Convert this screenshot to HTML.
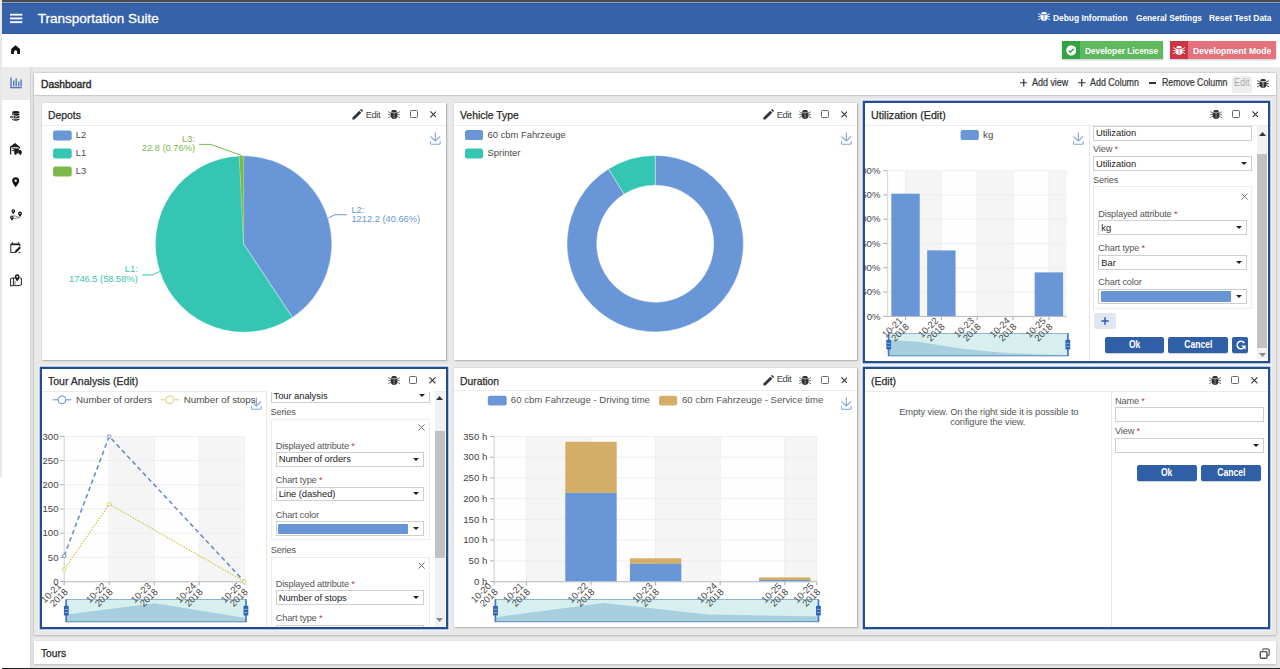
<!DOCTYPE html>
<html><head><meta charset="utf-8">
<style>
*{box-sizing:border-box}
html,body{margin:0;padding:0}
body{width:1280px;height:669px;overflow:hidden;position:relative;background:#e9e9e9;font-family:"Liberation Sans",sans-serif;color:#333}
.a{position:absolute}
.t{position:absolute;white-space:nowrap;line-height:1}
.panel{position:absolute;background:#fff;box-shadow:0 0 1px rgba(0,0,0,.25),1px 1px 1.5px rgba(0,0,0,.22)}
.edit{box-shadow:0 0 0 2.3px #234d90,0 0 0 3.8px #f2f6fb}
.ph{position:absolute;left:0;right:0;top:0;height:23px;border-bottom:1px solid #ececec}
.ptitle{position:absolute;left:6px;top:7px;font-size:11px;font-weight:700;color:#333;letter-spacing:-0.35px;white-space:nowrap;line-height:11px}
.lbl{position:absolute;font-size:9.5px;color:#555;white-space:nowrap;line-height:10px;letter-spacing:-0.1px}
.lbl b{color:#c0303a;font-weight:400}
.inp{position:absolute;border:1px solid #cfcfcf;background:#fff;height:15.5px;font-size:9.5px;color:#222;line-height:13px;padding-left:2px;white-space:nowrap;overflow:hidden}
.sel:after{content:"";position:absolute;right:4px;top:calc(50% - 1.6px);border-left:3.2px solid transparent;border-right:3.2px solid transparent;border-top:3.4px solid #222}
.box{position:absolute;border:1px solid #ececec;background:#fff}
.btn{position:absolute;background:#2f5fa6;color:#fff;font-size:10px;font-weight:700;text-align:center;border-radius:2px;line-height:16px;letter-spacing:0;box-shadow:0 1px 1px rgba(0,0,0,.2)}.btn span{display:inline-block;transform:scaleX(0.86)}
.sb{position:absolute;background:#f1f1f1}
</style></head><body>
<!-- left strip -->
<div class="a" style="left:0;top:0;width:1.6px;height:477px;background:#e8e8e8"></div><div class="a" style="left:0;top:477px;width:1.6px;height:192px;background:#fff"></div>
<!-- top dark -->
<div class="a" style="left:2px;top:0;width:1278px;height:2px;background:#4a4a4a"></div>
<div class="a" style="left:2px;top:2px;width:1278px;height:1px;background:#8aa3cb"></div>
<!-- header -->
<div class="a" style="left:2px;top:3px;width:1278px;height:30.6px;background:#3562a9;border-top:1px solid #2f5799;border-bottom:1px solid #2e5a9f"></div>
<!-- white bar -->
<div class="a" style="left:2px;top:33.6px;width:1278px;height:33.4px;background:#fff"></div>
<!-- sidebar -->
<div class="a" style="left:2px;top:67px;width:28.3px;height:602px;background:#fff"></div>
<div class="a" style="left:2px;top:67px;width:28.3px;height:32.8px;background:#ebebeb"></div>
<div class="a" style="left:30.3px;top:67px;width:3.2px;height:602px;background:#e3e3e3;border-left:1px solid #d5d5d5"></div>
<!-- dashboard card -->
<div class="a" style="left:33.5px;top:72.5px;width:1242px;height:562.5px;background:#e8e8e8;box-shadow:0 0 1.5px rgba(0,0,0,.3),0 1px 2px rgba(0,0,0,.15)"></div>
<div class="a" style="left:33.5px;top:72.5px;width:1242px;height:22.2px;background:#fff;box-shadow:0 1px 1px rgba(0,0,0,.12)"></div>
<!-- tours card -->
<div class="a" style="left:33.5px;top:641px;width:1242px;height:23px;background:#fff;box-shadow:0 1px 2px rgba(0,0,0,.2)"></div>
<!-- bottom dark line -->
<div class="a" style="left:2px;top:667.5px;width:1278px;height:1.5px;background:#1e1e1e"></div>

<svg class="a" style="left:10px;top:13px" width="13" height="11" viewBox="0 0 13 11"><g fill="#fff"><rect x="0" y="0.75" width="12.3" height="1.85"/><rect x="0" y="4.5" width="12.3" height="1.85"/><rect x="0" y="8.25" width="12.3" height="1.85"/></g></svg>
<div class="t" style="left:37.70px;top:11.57px;font-size:13.5px;color:#fff;-webkit-text-stroke:0.3px #fff">Transportation Suite</div>
<svg class="a" style="left:1037.8px;top:12.2px" width="12.2" height="9.5" viewBox="0 0 12.2 9.5"><path d="M3.3 2A2.55 2 0 0 1 8.9 2z" fill="#fff"/><path d="M2.7 2.3H9.5V5.6A3.4 3.4 0 0 1 2.7 5.6z" fill="#fff"/><path d="M3.3 2.7H8.9M6.1 2.7V8.6" stroke="#3562a9" stroke-width="0.7"/><path d="M0.2 1.6L2.8 3.1M0.2 4.6H2.8M0.2 7.8L2.8 6.2M12 1.6L9.4 3.1M12 4.6H9.4M12 7.8L9.4 6.2" stroke="#fff" stroke-width="0.9"/></svg>
<div class="t" style="left:1052.60px;top:13.22px;font-size:9.9px;color:#fff;font-weight:700;transform:scaleX(0.8490);transform-origin:left">Debug Information</div>
<div class="t" style="left:1135.50px;top:13.22px;font-size:9.9px;color:#fff;font-weight:700;transform:scaleX(0.8390);transform-origin:left">General Settings</div>
<div class="t" style="left:1209.30px;top:13.22px;font-size:9.9px;color:#fff;font-weight:700;transform:scaleX(0.8526);transform-origin:left">Reset Test Data</div>
<div class="a" style="left:1062.1px;top:41.4px;width:100.6px;height:17.6px;background:#5fba5f;box-shadow:0 1px 2px rgba(0,0,0,.22)"></div>
<div class="a" style="left:1062.1px;top:41.4px;width:18.1px;height:17.6px;background:#33a244"></div>
<svg class="a" style="left:1065.9px;top:45.2px" width="10.6" height="10.6" viewBox="0 0 12 12"><circle cx="6" cy="6" r="5.8" fill="#fff"/><path d="M3.2 6.1l1.9 1.9 3.7-3.7" stroke="#33a244" stroke-width="1.6" fill="none"/></svg>
<div class="t" style="left:1084.90px;top:45.86px;font-size:9.5px;color:#fff;font-weight:700;transform:scaleX(0.8696);transform-origin:left">Developer License</div>
<div class="a" style="left:1170px;top:41.4px;width:105.5px;height:17.6px;background:#e2737c;box-shadow:0 1px 2px rgba(0,0,0,.22)"></div>
<div class="a" style="left:1170px;top:41.4px;width:18px;height:17.6px;background:#cc3543"></div>
<svg class="a" style="left:1173px;top:45.5px" width="12.2" height="9.5" viewBox="0 0 12.2 9.5"><path d="M3.3 2A2.55 2 0 0 1 8.9 2z" fill="#fff"/><path d="M2.7 2.3H9.5V5.6A3.4 3.4 0 0 1 2.7 5.6z" fill="#fff"/><path d="M3.3 2.7H8.9M6.1 2.7V8.6" stroke="#cc3543" stroke-width="0.7"/><path d="M0.2 1.6L2.8 3.1M0.2 4.6H2.8M0.2 7.8L2.8 6.2M12 1.6L9.4 3.1M12 4.6H9.4M12 7.8L9.4 6.2" stroke="#fff" stroke-width="0.9"/></svg>
<div class="t" style="left:1192.50px;top:45.86px;font-size:9.5px;color:#fff;font-weight:700;transform:scaleX(0.8979);transform-origin:left">Development Mode</div>
<svg class="a" style="left:11.4px;top:44.6px" width="9.2" height="9.6" viewBox="0 0 10 10"><path d="M5 0.1L0.2 4.1V9.9H3.2V7.4A1.8 1.8 0 0 1 6.8 7.4V9.9H9.8V4.1Z" fill="#111"/></svg>
<svg class="a" style="left:9.5px;top:76.5px" width="12" height="12" viewBox="0 0 12 12"><g fill="#4c7ac2"><rect x="0.3" y="0.5" width="1.4" height="10"/><rect x="3" y="3.5" width="1.4" height="6"/><rect x="5.5" y="1.5" width="1.4" height="8"/><rect x="8" y="4.5" width="1.4" height="5"/><rect x="10.4" y="2.5" width="1.4" height="7"/><rect x="0.3" y="10" width="11.5" height="1.3"/></g></svg>
<svg class="a" style="left:10.4px;top:111px" width="10" height="10.2" viewBox="0 0 10 10.2"><g fill="#1a1a1a"><ellipse cx="5.8" cy="1.4" rx="3.6" ry="1.4"/><path d="M2.2 2.2Q5.8 4 9.4 2.2V3.9Q5.8 5.6 2.2 3.9z"/><path d="M2.2 4.8Q5.8 6.5 9.4 4.8V6.6Q5.8 8.3 2.2 6.6z"/><path d="M2.2 7.5Q5.8 9.2 9.4 7.5V8.8Q5.8 10.8 2.2 8.8z"/></g><path d="M0 6H4.8" stroke="#fff" stroke-width="2.6"/><path d="M0 6H4.6" stroke="#1a1a1a" stroke-width="1.3"/><path d="M3.6 3.6L6.4 6 3.6 8.4z" fill="#1a1a1a" stroke="#fff" stroke-width="0.6"/></svg>
<svg class="a" style="left:9.8px;top:142.8px" width="12" height="12" viewBox="0 0 12 12"><path d="M0.6 11.5V4.2L5 0.8 9.4 4.2V5.6" fill="none" stroke="#1a1a1a" stroke-width="1.3"/><path d="M0.6 4.2L5 0.8 9.4 4.2z" fill="#1a1a1a"/><rect x="2.4" y="5.2" width="2.2" height="1" fill="#1a1a1a"/><rect x="2.4" y="7" width="2.2" height="1" fill="#1a1a1a"/><rect x="4.2" y="5.4" width="4.6" height="5" fill="#1a1a1a"/><path d="M8.8 7H10.6L11.8 8.6V10.4H8.8z" fill="#1a1a1a"/><circle cx="5.6" cy="10.8" r="1.1" fill="#1a1a1a"/><circle cx="10.2" cy="10.8" r="1.1" fill="#1a1a1a"/></svg>
<svg class="a" style="left:12.2px;top:176.6px" width="7.4" height="10.2" viewBox="0 0 8 11"><path d="M4 0.2A3.8 3.8 0 0 0 0.2 4C0.2 6.6 4 10.8 4 10.8S7.8 6.6 7.8 4A3.8 3.8 0 0 0 4 0.2ZM4 2.7A1.3 1.3 0 1 1 4 5.3 1.3 1.3 0 0 1 4 2.7Z" fill="#111"/></svg>
<svg class="a" style="left:10px;top:208.8px" width="12.4" height="12.4" viewBox="0 0 12.4 12.4"><path d="M3 9.8L10 8.6 3.5 6.6" fill="none" stroke="#777" stroke-width="0.8"/><g fill="#1a1a1a"><path d="M3.3 0.2a1.8 1.8 0 0 0-1.8 1.8c0 1.3 1.8 3.2 1.8 3.2s1.8-1.9 1.8-3.2A1.8 1.8 0 0 0 3.3 0.2z"/><path d="M10 2.6a1.9 1.9 0 0 0-1.9 1.9c0 1.4 1.9 3.4 1.9 3.4s1.9-2 1.9-3.4A1.9 1.9 0 0 0 10 2.6z"/><path d="M1.9 6.4a1.8 1.8 0 0 0-1.8 1.8c0 1.3 1.8 3.3 1.8 3.3s1.8-2 1.8-3.3a1.8 1.8 0 0 0-1.8-1.8z"/></g><g fill="#fff"><circle cx="3.3" cy="2" r="0.6"/><circle cx="10" cy="4.5" r="0.6"/><circle cx="1.9" cy="8.2" r="0.6"/></g></svg>
<svg class="a" style="left:10.2px;top:242.2px" width="11.6" height="11.2" viewBox="0 0 11.6 11.2"><path d="M0.8 2.4V10.5H5.5" fill="none" stroke="#333" stroke-width="1.1"/><path d="M0.8 2.4H9.8V4.6" fill="none" stroke="#1a1a1a" stroke-width="1.1"/><rect x="0.8" y="1.6" width="9" height="1.6" fill="#1a1a1a"/><rect x="1.8" y="0" width="1" height="1.8" fill="#333"/><rect x="7.8" y="0" width="1" height="1.8" fill="#333"/><path d="M4.6 10.6L5 8.9 9.4 4.5 10.9 6 6.5 10.4z" fill="#1a1a1a"/><path d="M8.4 10.5H10.5" stroke="#333" stroke-width="0.9"/></svg>
<svg class="a" style="left:10.2px;top:274.4px" width="12" height="12.2" viewBox="0 0 12 12.2"><path d="M0.6 4.6L3.4 3.8 3.4 11.6 0.6 12z M3.4 3.8L5 4.4 M7 11.8L3.4 11.6 M7 11.8L11.4 11V4.4L9.6 3.9" fill="none" stroke="#222" stroke-width="1"/><path d="M5 6.8V11.8" stroke="#555" stroke-width="0.8"/><path d="M7.2 0.3a2.4 2.4 0 0 0-2.4 2.4c0 1.8 2.4 4.8 2.4 4.8s2.4-3 2.4-4.8A2.4 2.4 0 0 0 7.2 0.3z" fill="#1a1a1a"/><circle cx="7.2" cy="2.7" r="0.9" fill="#fff"/></svg>
<div class="t" style="left:40.60px;top:79.23px;font-size:10.6px;color:#2a2a2a;-webkit-text-stroke:0.4px #2a2a2a;transform:scaleX(0.9720);transform-origin:left">Dashboard</div>
<svg class="a" style="left:1019.5px;top:79.3px" width="7.5" height="7.5" viewBox="0 0 8 8"><path d="M4 0v8M0 4h8" stroke="#333" stroke-width="1.3"/></svg>
<svg class="a" style="left:1078px;top:79.3px" width="7.5" height="7.5" viewBox="0 0 8 8"><path d="M4 0v8M0 4h8" stroke="#333" stroke-width="1.3"/></svg>
<div class="t" style="left:1031.70px;top:78.35px;font-size:10.1px;color:#333;-webkit-text-stroke:0.2px #333;transform:scaleX(0.8858);transform-origin:left">Add view</div>
<div class="t" style="left:1090.00px;top:78.35px;font-size:10.1px;color:#333;-webkit-text-stroke:0.2px #333;transform:scaleX(0.8817);transform-origin:left">Add Column</div>
<div class="a" style="left:1148.8px;top:82.4px;width:7.4px;height:1.3px;background:#333"></div>
<div class="t" style="left:1161.50px;top:78.35px;font-size:10.1px;color:#333;-webkit-text-stroke:0.2px #333;transform:scaleX(0.8695);transform-origin:left">Remove Column</div>
<div class="a" style="left:1232px;top:75.5px;width:20px;height:17px;background:#eeeeee;border-radius:2px"></div>
<div class="t" style="left:1234.20px;top:78.35px;font-size:10.1px;color:#aaa;transform:scaleX(0.8964);transform-origin:left">Edit</div>
<svg class="a" style="left:1257px;top:78.5px" width="12.2" height="9.5" viewBox="0 0 12.2 9.5"><path d="M3.3 2A2.55 2 0 0 1 8.9 2z" fill="#333"/><path d="M2.7 2.3H9.5V5.6A3.4 3.4 0 0 1 2.7 5.6z" fill="#333"/><path d="M3.3 2.7H8.9M6.1 2.7V8.6" stroke="#fff" stroke-width="0.7"/><path d="M0.2 1.6L2.8 3.1M0.2 4.6H2.8M0.2 7.8L2.8 6.2M12 1.6L9.4 3.1M12 4.6H9.4M12 7.8L9.4 6.2" stroke="#333" stroke-width="0.9"/></svg>
<div class="t" style="left:41.00px;top:648.03px;font-size:10.6px;color:#222;-webkit-text-stroke:0.25px #222;transform:scaleX(0.9646);transform-origin:left">Tours</div>
<svg class="a" style="left:1258.5px;top:647.5px" width="11" height="11" viewBox="0 0 11 11"><path d="M3.6 2.6V2.2Q3.6 0.9 4.9 0.9H8.9Q10.2 0.9 10.2 2.2V6.2Q10.2 7.5 8.9 7.5H8.3" fill="none" stroke="#666" stroke-width="1.3"/><rect x="1.3" y="3.6" width="6.6" height="6.6" rx="1.2" fill="#fff" stroke="#555" stroke-width="1.4"/></svg><div class="panel" style="left:42px;top:103px;width:404px;height:257px">
<div class="ph"></div>
</div>
<div class="t" style="left:48.10px;top:109.93px;font-size:10.6px;color:#2a2a2a;-webkit-text-stroke:0.25px #2a2a2a;transform:scaleX(0.9796);transform-origin:left">Depots</div>
<svg class="a" style="left:429.6px;top:111px" width="6.8" height="6.8" viewBox="0 0 7 7"><path d="M0.4 0.4L6.6 6.6M6.6 0.4L0.4 6.6" stroke="#333" stroke-width="1.15"/></svg>
<div class="a" style="left:409.5px;top:110.1px;width:8.3px;height:8.3px;border:1.4px solid #6a6a6a;border-radius:1.3px"></div>
<svg class="a" style="left:387.8px;top:110px" width="12.2" height="9.5" viewBox="0 0 12.2 9.5"><path d="M3.3 2A2.55 2 0 0 1 8.9 2z" fill="#333"/><path d="M2.7 2.3H9.5V5.6A3.4 3.4 0 0 1 2.7 5.6z" fill="#333"/><path d="M3.3 2.7H8.9M6.1 2.7V8.6" stroke="#aaa" stroke-width="0.7"/><path d="M0.2 1.6L2.8 3.1M0.2 4.6H2.8M0.2 7.8L2.8 6.2M12 1.6L9.4 3.1M12 4.6H9.4M12 7.8L9.4 6.2" stroke="#666" stroke-width="0.9"/></svg>
<svg class="a" style="left:352px;top:109px" width="11" height="11" viewBox="0 0 11 11"><path d="M0.3 10.7L0.7 8.3 7.3 1.7 9.3 3.7 2.7 10.3z" fill="#333"/><path d="M8.1 0.9L8.7 0.3Q9.1 -0.1 9.5 0.3L10.7 1.5Q11.1 1.9 10.7 2.3L10.1 2.9z" fill="#222"/></svg>
<div class="t" style="left:365.7px;top:109.9px;font-size:9.4px;color:#444;letter-spacing:-0.4px">Edit</div>
<div class="panel" style="left:454px;top:103px;width:403px;height:257px">
<div class="ph"></div>
</div>
<div class="t" style="left:459.60px;top:109.93px;font-size:10.6px;color:#2a2a2a;-webkit-text-stroke:0.25px #2a2a2a;transform:scaleX(0.9814);transform-origin:left">Vehicle Type</div>
<svg class="a" style="left:840.6px;top:111px" width="6.8" height="6.8" viewBox="0 0 7 7"><path d="M0.4 0.4L6.6 6.6M6.6 0.4L0.4 6.6" stroke="#333" stroke-width="1.15"/></svg>
<div class="a" style="left:820.5px;top:110.1px;width:8.3px;height:8.3px;border:1.4px solid #6a6a6a;border-radius:1.3px"></div>
<svg class="a" style="left:798.8px;top:110px" width="12.2" height="9.5" viewBox="0 0 12.2 9.5"><path d="M3.3 2A2.55 2 0 0 1 8.9 2z" fill="#333"/><path d="M2.7 2.3H9.5V5.6A3.4 3.4 0 0 1 2.7 5.6z" fill="#333"/><path d="M3.3 2.7H8.9M6.1 2.7V8.6" stroke="#aaa" stroke-width="0.7"/><path d="M0.2 1.6L2.8 3.1M0.2 4.6H2.8M0.2 7.8L2.8 6.2M12 1.6L9.4 3.1M12 4.6H9.4M12 7.8L9.4 6.2" stroke="#666" stroke-width="0.9"/></svg>
<svg class="a" style="left:763px;top:109px" width="11" height="11" viewBox="0 0 11 11"><path d="M0.3 10.7L0.7 8.3 7.3 1.7 9.3 3.7 2.7 10.3z" fill="#333"/><path d="M8.1 0.9L8.7 0.3Q9.1 -0.1 9.5 0.3L10.7 1.5Q11.1 1.9 10.7 2.3L10.1 2.9z" fill="#222"/></svg>
<div class="t" style="left:776.7px;top:109.9px;font-size:9.4px;color:#444;letter-spacing:-0.4px">Edit</div>
<div class="panel edit" style="left:865px;top:102.5px;width:403px;height:258.5px">
<div class="ph"></div>
</div>
<div class="t" style="left:870.70px;top:110.23px;font-size:10.6px;color:#2a2a2a;-webkit-text-stroke:0.25px #2a2a2a;transform:scaleX(1.0078);transform-origin:left">Utilization (Edit)</div>
<svg class="a" style="left:1251.6px;top:110.5px" width="6.8" height="6.8" viewBox="0 0 7 7"><path d="M0.4 0.4L6.6 6.6M6.6 0.4L0.4 6.6" stroke="#333" stroke-width="1.15"/></svg>
<div class="a" style="left:1231.5px;top:109.6px;width:8.3px;height:8.3px;border:1.4px solid #6a6a6a;border-radius:1.3px"></div>
<svg class="a" style="left:1209.8px;top:109.5px" width="12.2" height="9.5" viewBox="0 0 12.2 9.5"><path d="M3.3 2A2.55 2 0 0 1 8.9 2z" fill="#333"/><path d="M2.7 2.3H9.5V5.6A3.4 3.4 0 0 1 2.7 5.6z" fill="#333"/><path d="M3.3 2.7H8.9M6.1 2.7V8.6" stroke="#aaa" stroke-width="0.7"/><path d="M0.2 1.6L2.8 3.1M0.2 4.6H2.8M0.2 7.8L2.8 6.2M12 1.6L9.4 3.1M12 4.6H9.4M12 7.8L9.4 6.2" stroke="#666" stroke-width="0.9"/></svg>
<div class="panel edit" style="left:42px;top:369px;width:403.7px;height:257.5px">
<div class="ph"></div>
</div>
<div class="t" style="left:48.30px;top:376.03px;font-size:10.6px;color:#2a2a2a;-webkit-text-stroke:0.25px #2a2a2a;transform:scaleX(0.9943);transform-origin:left">Tour Analysis (Edit)</div>
<svg class="a" style="left:429.3px;top:377px" width="6.8" height="6.8" viewBox="0 0 7 7"><path d="M0.4 0.4L6.6 6.6M6.6 0.4L0.4 6.6" stroke="#333" stroke-width="1.15"/></svg>
<div class="a" style="left:409.2px;top:376.1px;width:8.3px;height:8.3px;border:1.4px solid #6a6a6a;border-radius:1.3px"></div>
<svg class="a" style="left:387.5px;top:376px" width="12.2" height="9.5" viewBox="0 0 12.2 9.5"><path d="M3.3 2A2.55 2 0 0 1 8.9 2z" fill="#333"/><path d="M2.7 2.3H9.5V5.6A3.4 3.4 0 0 1 2.7 5.6z" fill="#333"/><path d="M3.3 2.7H8.9M6.1 2.7V8.6" stroke="#aaa" stroke-width="0.7"/><path d="M0.2 1.6L2.8 3.1M0.2 4.6H2.8M0.2 7.8L2.8 6.2M12 1.6L9.4 3.1M12 4.6H9.4M12 7.8L9.4 6.2" stroke="#666" stroke-width="0.9"/></svg>
<div class="panel" style="left:454px;top:367.5px;width:403px;height:259.0px">
<div class="ph"></div>
</div>
<div class="t" style="left:459.90px;top:376.13px;font-size:10.6px;color:#2a2a2a;-webkit-text-stroke:0.25px #2a2a2a;transform:scaleX(0.9760);transform-origin:left">Duration</div>
<svg class="a" style="left:840.6px;top:376.5px" width="6.8" height="6.8" viewBox="0 0 7 7"><path d="M0.4 0.4L6.6 6.6M6.6 0.4L0.4 6.6" stroke="#333" stroke-width="1.15"/></svg>
<div class="a" style="left:820.5px;top:375.6px;width:8.3px;height:8.3px;border:1.4px solid #6a6a6a;border-radius:1.3px"></div>
<svg class="a" style="left:798.8px;top:375.5px" width="12.2" height="9.5" viewBox="0 0 12.2 9.5"><path d="M3.3 2A2.55 2 0 0 1 8.9 2z" fill="#333"/><path d="M2.7 2.3H9.5V5.6A3.4 3.4 0 0 1 2.7 5.6z" fill="#333"/><path d="M3.3 2.7H8.9M6.1 2.7V8.6" stroke="#aaa" stroke-width="0.7"/><path d="M0.2 1.6L2.8 3.1M0.2 4.6H2.8M0.2 7.8L2.8 6.2M12 1.6L9.4 3.1M12 4.6H9.4M12 7.8L9.4 6.2" stroke="#666" stroke-width="0.9"/></svg>
<svg class="a" style="left:763px;top:374.5px" width="11" height="11" viewBox="0 0 11 11"><path d="M0.3 10.7L0.7 8.3 7.3 1.7 9.3 3.7 2.7 10.3z" fill="#333"/><path d="M8.1 0.9L8.7 0.3Q9.1 -0.1 9.5 0.3L10.7 1.5Q11.1 1.9 10.7 2.3L10.1 2.9z" fill="#222"/></svg>
<div class="t" style="left:776.7px;top:374.4px;font-size:9.4px;color:#444;letter-spacing:-0.4px">Edit</div>
<div class="panel edit" style="left:864.6px;top:369px;width:402.9999999999999px;height:258px">
<div class="ph"></div>
</div>
<div class="t" style="left:870.70px;top:376.13px;font-size:10.6px;color:#2a2a2a;-webkit-text-stroke:0.25px #2a2a2a;transform:scaleX(0.9912);transform-origin:left">(Edit)</div>
<svg class="a" style="left:1251.1999999999998px;top:377px" width="6.8" height="6.8" viewBox="0 0 7 7"><path d="M0.4 0.4L6.6 6.6M6.6 0.4L0.4 6.6" stroke="#333" stroke-width="1.15"/></svg>
<div class="a" style="left:1231.1px;top:376.1px;width:8.3px;height:8.3px;border:1.4px solid #6a6a6a;border-radius:1.3px"></div>
<svg class="a" style="left:1209.3999999999999px;top:376px" width="12.2" height="9.5" viewBox="0 0 12.2 9.5"><path d="M3.3 2A2.55 2 0 0 1 8.9 2z" fill="#333"/><path d="M2.7 2.3H9.5V5.6A3.4 3.4 0 0 1 2.7 5.6z" fill="#333"/><path d="M3.3 2.7H8.9M6.1 2.7V8.6" stroke="#aaa" stroke-width="0.7"/><path d="M0.2 1.6L2.8 3.1M0.2 4.6H2.8M0.2 7.8L2.8 6.2M12 1.6L9.4 3.1M12 4.6H9.4M12 7.8L9.4 6.2" stroke="#666" stroke-width="0.9"/></svg>
<svg class="a" style="left:430px;top:131.5px" width="11" height="13" viewBox="0 0 11 13"><g fill="none" stroke="#80a4d4" stroke-width="1.1"><path d="M5.3 0.4V8.6M0.4 4.4L5.3 8.9 10.2 4.4"/><path d="M0.4 9.3V10.9Q0.4 12.3 1.8 12.3H8.8Q10.2 12.3 10.2 10.9V9.3"/></g></svg>
<svg class="a" style="left:841px;top:131.5px" width="11" height="13" viewBox="0 0 11 13"><g fill="none" stroke="#80a4d4" stroke-width="1.1"><path d="M5.3 0.4V8.6M0.4 4.4L5.3 8.9 10.2 4.4"/><path d="M0.4 9.3V10.9Q0.4 12.3 1.8 12.3H8.8Q10.2 12.3 10.2 10.9V9.3"/></g></svg>
<svg class="a" style="left:1072.5px;top:131.5px" width="11" height="13" viewBox="0 0 11 13"><g fill="none" stroke="#80a4d4" stroke-width="1.1"><path d="M5.3 0.4V8.6M0.4 4.4L5.3 8.9 10.2 4.4"/><path d="M0.4 9.3V10.9Q0.4 12.3 1.8 12.3H8.8Q10.2 12.3 10.2 10.9V9.3"/></g></svg>
<svg class="a" style="left:250.5px;top:397px" width="11" height="13" viewBox="0 0 11 13"><g fill="none" stroke="#80a4d4" stroke-width="1.1"><path d="M5.3 0.4V8.6M0.4 4.4L5.3 8.9 10.2 4.4"/><path d="M0.4 9.3V10.9Q0.4 12.3 1.8 12.3H8.8Q10.2 12.3 10.2 10.9V9.3"/></g></svg>
<svg class="a" style="left:841px;top:397px" width="11" height="13" viewBox="0 0 11 13"><g fill="none" stroke="#80a4d4" stroke-width="1.1"><path d="M5.3 0.4V8.6M0.4 4.4L5.3 8.9 10.2 4.4"/><path d="M0.4 9.3V10.9Q0.4 12.3 1.8 12.3H8.8Q10.2 12.3 10.2 10.9V9.3"/></g></svg>
<div class="a" style="left:1089px;top:126px;width:1px;height:235px;background:#e6e6e6"></div>
<div class="a" style="left:1089.3px;top:126px;width:167px;height:235px;overflow:hidden">
</div>
<div class="inp" style="left:1093px;top:126px;width:158.5px;height:14.5px;font-size:9.4px;letter-spacing:-0.05px;line-height:12.5px">Utilization</div>
<div class="lbl" style="left:1093px;top:143.7px;font-size:9.2px;letter-spacing:-0.15px;color:#555">View <b>*</b></div>
<div class="inp sel" style="left:1093px;top:155.6px;width:158.5px;height:15.700000000000017px;font-size:9.4px;letter-spacing:-0.05px;line-height:13.700000000000017px">Utilization</div>
<div class="lbl" style="left:1093px;top:174.5px;font-size:9.2px;letter-spacing:-0.15px;color:#555">Series</div>
<div class="box" style="left:1093px;top:186.3px;width:159.2px;height:122.8px"></div>
<svg class="a" style="left:1241px;top:192.6px" width="7" height="7" viewBox="0 0 7 7"><path d="M0.4 0.4L6.6 6.6M6.6 0.4L0.4 6.6" stroke="#666" stroke-width="0.9"/></svg>
<div class="lbl" style="left:1098.3px;top:208.6px;font-size:9.2px;letter-spacing:-0.15px;color:#555">Displayed attribute <b>*</b></div>
<div class="inp sel" style="left:1098.3px;top:220px;width:149.10000000000014px;height:15.199999999999989px;font-size:9.4px;letter-spacing:-0.05px;line-height:13.199999999999989px">kg</div>
<div class="lbl" style="left:1098.3px;top:243.1px;font-size:9.2px;letter-spacing:-0.15px;color:#555">Chart type <b>*</b></div>
<div class="inp sel" style="left:1098.3px;top:254.5px;width:149.10000000000014px;height:15.300000000000011px;font-size:9.4px;letter-spacing:-0.05px;line-height:13.300000000000011px">Bar</div>
<div class="lbl" style="left:1098.3px;top:277.2px;font-size:9.2px;letter-spacing:-0.15px;color:#555">Chart color</div>
<div class="inp sel" style="left:1098.3px;top:289px;width:149.10000000000014px;height:15.300000000000011px"></div>
<div class="a" style="left:1100.5px;top:291.3px;width:130.09999999999997px;height:10.700000000000012px;background:#6895d5;border-radius:1px"></div>
<div class="a" style="left:1093.5px;top:313.1px;width:22px;height:15.7px;background:#dfe7f3;border-radius:2px"></div>
<svg class="a" style="left:1100.5px;top:317px" width="8" height="8" viewBox="0 0 8 8"><path d="M4 0.3v7.4M0.3 4h7.4" stroke="#2f5fa6" stroke-width="1.5"/></svg>
<div class="btn" style="left:1105px;top:336.8px;width:59.2px;height:16.1px"><span>Ok</span></div>
<div class="btn" style="left:1168.2px;top:336.8px;width:59.7px;height:16.1px"><span>Cancel</span></div>
<div class="btn" style="left:1232px;top:336.8px;width:16.4px;height:16.1px"></div>
<svg class="a" style="left:1235.5px;top:340px" width="10" height="10" viewBox="0 0 10 10"><path d="M8.3 3.2A3.8 3.8 0 1 0 8.6 6.2" fill="none" stroke="#fff" stroke-width="1.5"/><path d="M5.2 5.6H9.6V9.8z" fill="#fff"/></svg>
<div class="sb" style="left:1256.8px;top:126px;width:10.400000000000091px;height:232.7px"></div>
<div class="a" style="left:1256.8px;top:153.5px;width:10.400000000000091px;height:194.8px;background:#c1c1c1"></div>
<svg class="a" style="left:1258.5px;top:131.6px" width="7" height="4" viewBox="0 0 7 4"><path d="M0 4L3.5 0 7 4z" fill="#333"/></svg>
<svg class="a" style="left:1258.5px;top:352.6px" width="7" height="4" viewBox="0 0 7 4"><path d="M0 0L3.5 4 7 0z" fill="#888"/></svg>
<div class="a" style="left:266px;top:392px;width:1px;height:234.5px;background:#e6e6e6"></div>
<div class="inp sel" style="left:270.5px;top:389px;width:159.0px;height:13.699999999999989px;font-size:9.4px;letter-spacing:-0.05px;line-height:11.699999999999989px">Tour analysis</div>
<div class="a" style="left:267px;top:389px;width:167px;height:3px;background:#fff"></div>
<div class="lbl" style="left:270.5px;top:407.2px;font-size:9.2px;letter-spacing:-0.15px;color:#555">Series</div>
<div class="box" style="left:270.5px;top:418.5px;width:159px;height:121.9px"></div>
<svg class="a" style="left:418.4px;top:424.1px" width="7" height="7" viewBox="0 0 7 7"><path d="M0.4 0.4L6.6 6.6M6.6 0.4L0.4 6.6" stroke="#666" stroke-width="0.9"/></svg>
<div class="lbl" style="left:275.7px;top:440.5px;font-size:9.2px;letter-spacing:-0.15px;color:#555">Displayed attribute <b>*</b></div>
<div class="inp sel" style="left:275.7px;top:452.4px;width:148.8px;height:14.900000000000034px;font-size:9.4px;letter-spacing:-0.05px;line-height:12.900000000000034px">Number of orders</div>
<div class="lbl" style="left:275.7px;top:474.8px;font-size:9.2px;letter-spacing:-0.15px;color:#555">Chart type <b>*</b></div>
<div class="inp sel" style="left:275.7px;top:486.7px;width:148.8px;height:14.5px;font-size:9.4px;letter-spacing:-0.05px;line-height:12.5px">Line (dashed)</div>
<div class="lbl" style="left:275.7px;top:509.7px;font-size:9.2px;letter-spacing:-0.15px;color:#555">Chart color</div>
<div class="inp sel" style="left:275.7px;top:521.4px;width:148.8px;height:15.0px"></div>
<div class="a" style="left:277.9px;top:523.6999999999999px;width:130.10000000000002px;height:10.4px;background:#6895d5;border-radius:1px"></div>
<div class="lbl" style="left:270.8px;top:545.2px;font-size:9.2px;letter-spacing:-0.15px;color:#555">Series</div>
<div class="box" style="left:270.5px;top:556.6px;width:159px;height:69.9px;border-bottom:none"></div>
<svg class="a" style="left:418px;top:562.2px" width="7" height="7" viewBox="0 0 7 7"><path d="M0.4 0.4L6.6 6.6M6.6 0.4L0.4 6.6" stroke="#666" stroke-width="0.9"/></svg>
<div class="lbl" style="left:275.7px;top:578.6px;font-size:9.2px;letter-spacing:-0.15px;color:#555">Displayed attribute <b>*</b></div>
<div class="inp sel" style="left:275.7px;top:590.4px;width:148.8px;height:15.100000000000023px;font-size:9.4px;letter-spacing:-0.05px;line-height:13.100000000000023px">Number of stops</div>
<div class="lbl" style="left:275.7px;top:612.9000000000001px;font-size:9.2px;letter-spacing:-0.15px;color:#555">Chart type <b>*</b></div>
<div class="a" style="left:275.7px;top:624.5px;width:148.8px;height:2px;border:1px solid #cfcfcf;border-bottom:none"></div>
<div class="sb" style="left:434.6px;top:392px;width:10.099999999999966px;height:234.5px"></div>
<div class="a" style="left:434.6px;top:431.2px;width:10.099999999999966px;height:127.19999999999999px;background:#c1c1c1"></div>
<svg class="a" style="left:436.15px;top:396.3px" width="7" height="4" viewBox="0 0 7 4"><path d="M0 4L3.5 0 7 4z" fill="#333"/></svg>
<svg class="a" style="left:436.15px;top:617.6px" width="7" height="4" viewBox="0 0 7 4"><path d="M0 0L3.5 4 7 0z" fill="#888"/></svg>
<div class="a" style="left:1110.5px;top:392px;width:1px;height:235px;background:#e6e6e6"></div>
<div class="lbl" style="left:1115px;top:395.59999999999997px;font-size:9.2px;letter-spacing:-0.15px;color:#555">Name <b>*</b></div>
<div class="inp" style="left:1114.6px;top:407px;width:149.9000000000001px;height:15.399999999999977px;font-size:9.4px;letter-spacing:-0.05px;line-height:13.399999999999977px"></div>
<div class="lbl" style="left:1115px;top:425.9px;font-size:9.2px;letter-spacing:-0.15px;color:#555">View <b>*</b></div>
<div class="inp sel" style="left:1114.6px;top:437.9px;width:149.9000000000001px;height:14.800000000000011px;font-size:9.4px;letter-spacing:-0.05px;line-height:12.800000000000011px"></div>
<div class="btn" style="left:1137.3px;top:464.7px;width:59.6px;height:16.3px"><span>Ok</span></div>
<div class="btn" style="left:1201.2px;top:464.7px;width:59.6px;height:16.3px"><span>Cancel</span></div>
<div class="t" style="left:899.2px;top:408.3px;font-size:9.3px;color:#555;letter-spacing:-0.1px">Empty view. On the right side it is possible to</div>
<div class="t" style="left:950.2px;top:418.1px;font-size:9.3px;color:#555;letter-spacing:-0.1px">configure the view.</div>
<svg class="a" style="left:0;top:0" width="1280" height="669" viewBox="0 0 1280 669" font-family="Liberation Sans, sans-serif">
<defs><clipPath id="cu"><rect x="865" y="126" width="223" height="235"/></clipPath></defs>
<rect x="53.1" y="130.4" width="18.6" height="10" rx="2.2" fill="#6896d6"/>
<text x="75.8" y="138.00" font-size="9.3" fill="#4a4a4a">L2</text>
<rect x="53.1" y="148.45000000000002" width="18.6" height="10" rx="2.2" fill="#35c5b3"/>
<text x="75.8" y="156.05" font-size="9.3" fill="#4a4a4a">L1</text>
<rect x="53.1" y="166.5" width="18.6" height="10" rx="2.2" fill="#7cb84a"/>
<text x="75.8" y="174.10" font-size="9.3" fill="#4a4a4a">L3</text>
<path d="M243.60 244.00L243.60 155.80A88.2 88.2 0 0 1 292.44 317.44Z" fill="#6896d6" stroke="#fff" stroke-width="0.4"/>
<path d="M243.60 244.00L292.44 317.44A88.2 88.2 0 1 1 239.39 155.90Z" fill="#35c5b3" stroke="#fff" stroke-width="0.4"/>
<path d="M243.60 244.00L239.39 155.90A88.2 88.2 0 0 1 243.60 155.80Z" fill="#7cb84a"/>
<polyline points="199.1,144.4 210.6,144.4 241.5,155.4" fill="none" stroke="#7cb84a" stroke-width="1"/>
<polyline points="328.4,218 335,214.7 346.7,214.7" fill="none" stroke="#6896d6" stroke-width="1"/>
<polyline points="142,274.9 152.8,274.9 159.8,271.4" fill="none" stroke="#35c5b3" stroke-width="1"/>
<text x="195" y="142" font-size="9.3" fill="#7cb84a" text-anchor="end" letter-spacing="0">L3:</text>
<text x="195" y="151.4" font-size="9.3" fill="#7cb84a" text-anchor="end" letter-spacing="0">22.8 (0.76%)</text>
<text x="351.4" y="213.4" font-size="9.3" fill="#6896d6" text-anchor="start" letter-spacing="0">L2:</text>
<text x="351.4" y="222.3" font-size="9.3" fill="#6896d6" text-anchor="start" letter-spacing="0">1212.2 (40.66%)</text>
<text x="137.8" y="272.4" font-size="9.3" fill="#35c5b3" text-anchor="end" letter-spacing="0">L1:</text>
<text x="137.8" y="281.8" font-size="9.3" fill="#35c5b3" text-anchor="end" letter-spacing="0">1746.5 (58.58%)</text>
<rect x="465" y="130.1" width="18" height="10" rx="2.2" fill="#6896d6"/>
<text x="487.6" y="138.00" font-size="9.4" fill="#4a4a4a">60 cbm Fahrzeuge</text>
<rect x="465" y="148.5" width="18" height="10" rx="2.2" fill="#35c5b3"/>
<text x="487.6" y="156.40" font-size="9.4" fill="#4a4a4a">Sprinter</text>
<path d="M655.20 155.50A88.2 88.2 0 1 1 608.46 168.90L624.20 194.09A58.5 58.5 0 1 0 655.20 185.20Z" fill="#6896d6" stroke="#fff" stroke-width="0.4"/>
<path d="M608.46 168.90A88.2 88.2 0 0 1 655.20 155.50L655.20 185.20A58.5 58.5 0 0 0 624.20 194.09Z" fill="#35c5b3" stroke="#fff" stroke-width="0.4"/>
<rect x="960.6" y="130.1" width="18.2" height="10" rx="2.2" fill="#6896d6"/>
<text x="983.1" y="138.3" font-size="9.6" fill="#444">kg</text>
<g clip-path="url(#cu)">
<rect x="887.6" y="170.7" width="17.91999999999996" height="145.60000000000002" fill="#fefefe"/>
<rect x="905.52" y="170.7" width="35.84000000000003" height="145.60000000000002" fill="#f5f5f5"/>
<rect x="941.36" y="170.7" width="35.84000000000003" height="145.60000000000002" fill="#fefefe"/>
<rect x="977.2" y="170.7" width="35.83999999999992" height="145.60000000000002" fill="#f5f5f5"/>
<rect x="1013.04" y="170.7" width="35.83999999999992" height="145.60000000000002" fill="#fefefe"/>
<rect x="1048.8799999999999" y="170.7" width="17.920000000000073" height="145.60000000000002" fill="#f5f5f5"/>
<line x1="887.6" y1="170.70" x2="1066.8" y2="170.70" stroke="#eeeeee" stroke-width="1"/>
<line x1="883.1" y1="170.70" x2="887.6" y2="170.70" stroke="#aaa" stroke-width="1"/>
<text x="880.5" y="173.90" font-size="9.6" fill="#444" text-anchor="end">300%</text>
<line x1="887.6" y1="194.97" x2="1066.8" y2="194.97" stroke="#eeeeee" stroke-width="1"/>
<line x1="883.1" y1="194.97" x2="887.6" y2="194.97" stroke="#aaa" stroke-width="1"/>
<text x="880.5" y="198.17" font-size="9.6" fill="#444" text-anchor="end">250%</text>
<line x1="887.6" y1="219.23" x2="1066.8" y2="219.23" stroke="#eeeeee" stroke-width="1"/>
<line x1="883.1" y1="219.23" x2="887.6" y2="219.23" stroke="#aaa" stroke-width="1"/>
<text x="880.5" y="222.43" font-size="9.6" fill="#444" text-anchor="end">200%</text>
<line x1="887.6" y1="243.50" x2="1066.8" y2="243.50" stroke="#eeeeee" stroke-width="1"/>
<line x1="883.1" y1="243.50" x2="887.6" y2="243.50" stroke="#aaa" stroke-width="1"/>
<text x="880.5" y="246.70" font-size="9.6" fill="#444" text-anchor="end">150%</text>
<line x1="887.6" y1="267.77" x2="1066.8" y2="267.77" stroke="#eeeeee" stroke-width="1"/>
<line x1="883.1" y1="267.77" x2="887.6" y2="267.77" stroke="#aaa" stroke-width="1"/>
<text x="880.5" y="270.97" font-size="9.6" fill="#444" text-anchor="end">100%</text>
<line x1="887.6" y1="292.03" x2="1066.8" y2="292.03" stroke="#eeeeee" stroke-width="1"/>
<line x1="883.1" y1="292.03" x2="887.6" y2="292.03" stroke="#aaa" stroke-width="1"/>
<text x="880.5" y="295.23" font-size="9.6" fill="#444" text-anchor="end">50%</text>
<line x1="887.6" y1="316.30" x2="1066.8" y2="316.30" stroke="#eeeeee" stroke-width="1"/>
<line x1="883.1" y1="316.30" x2="887.6" y2="316.30" stroke="#aaa" stroke-width="1"/>
<text x="880.5" y="319.50" font-size="9.6" fill="#444" text-anchor="end">0%</text>
<line x1="905.52" y1="170.7" x2="905.52" y2="316.3" stroke="#eeeeee" stroke-width="1"/>
<line x1="941.36" y1="170.7" x2="941.36" y2="316.3" stroke="#eeeeee" stroke-width="1"/>
<line x1="977.20" y1="170.7" x2="977.20" y2="316.3" stroke="#eeeeee" stroke-width="1"/>
<line x1="1013.04" y1="170.7" x2="1013.04" y2="316.3" stroke="#eeeeee" stroke-width="1"/>
<line x1="1048.88" y1="170.7" x2="1048.88" y2="316.3" stroke="#eeeeee" stroke-width="1"/>
<line x1="887.6" y1="170.7" x2="887.6" y2="316.3" stroke="#d6d6d6" stroke-width="1"/>
<rect x="891.32" y="193.7" width="28.4" height="122.60" fill="#6896d6"/>
<rect x="927.16" y="250.4" width="28.4" height="65.90" fill="#6896d6"/>
<rect x="1034.68" y="272.4" width="28.4" height="43.90" fill="#6896d6"/>
<line x1="887.6" y1="316.6" x2="1066.8" y2="316.6" stroke="#bbb" stroke-width="1"/>
<line x1="905.52" y1="316.3" x2="905.52" y2="320.1" stroke="#aaa" stroke-width="1"/>
<line x1="941.36" y1="316.3" x2="941.36" y2="320.1" stroke="#aaa" stroke-width="1"/>
<line x1="977.20" y1="316.3" x2="977.20" y2="320.1" stroke="#aaa" stroke-width="1"/>
<line x1="1013.04" y1="316.3" x2="1013.04" y2="320.1" stroke="#aaa" stroke-width="1"/>
<line x1="1048.88" y1="316.3" x2="1048.88" y2="320.1" stroke="#aaa" stroke-width="1"/>
</g>
<rect x="888.2" y="333.5" width="180.0999999999999" height="22.399999999999977" fill="#d7f0ef" stroke="#8db3cf" stroke-width="1"/>
<polygon points="888.7,355.4 888.7,339.7 920,342 960,348.5 1000,352.5 1040,354.5 1067.8,355 1067.8,355.4" fill="#a7cfdf"/>
<line x1="888.7" y1="355.59999999999997" x2="1067.8" y2="355.59999999999997" stroke="#6f9cc4" stroke-width="1"/>
<line x1="888.7" y1="333.5" x2="888.7" y2="355.9" stroke="#4a78c8" stroke-width="1.5"/>
<rect x="886.3000000000001" y="339.8" width="4.8" height="9.7" rx="0.8" fill="#3364b4"/>
<path d="M887.1 343.4h3.2M887.1 346.5h3.2" stroke="#8fb6ee" stroke-width="0.9"/>
<line x1="1067.8" y1="333.5" x2="1067.8" y2="355.9" stroke="#4a78c8" stroke-width="1.5"/>
<rect x="1065.3999999999999" y="339.8" width="4.8" height="9.7" rx="0.8" fill="#3364b4"/>
<path d="M1066.2 343.4h3.2M1066.2 346.5h3.2" stroke="#8fb6ee" stroke-width="0.9"/>
<g clip-path="url(#cu)">
<text transform="translate(903.02,321.30) rotate(-45)" font-size="9.4" fill="#484848" text-anchor="end">10-21</text>
<text transform="translate(909.72,327.30) rotate(-45)" font-size="9.4" fill="#484848" text-anchor="end">2018</text>
<text transform="translate(938.86,321.30) rotate(-45)" font-size="9.4" fill="#484848" text-anchor="end">10-22</text>
<text transform="translate(945.56,327.30) rotate(-45)" font-size="9.4" fill="#484848" text-anchor="end">2018</text>
<text transform="translate(974.70,321.30) rotate(-45)" font-size="9.4" fill="#484848" text-anchor="end">10-23</text>
<text transform="translate(981.40,327.30) rotate(-45)" font-size="9.4" fill="#484848" text-anchor="end">2018</text>
<text transform="translate(1010.54,321.30) rotate(-45)" font-size="9.4" fill="#484848" text-anchor="end">10-24</text>
<text transform="translate(1017.24,327.30) rotate(-45)" font-size="9.4" fill="#484848" text-anchor="end">2018</text>
<text transform="translate(1046.38,321.30) rotate(-45)" font-size="9.4" fill="#484848" text-anchor="end">10-25</text>
<text transform="translate(1053.08,327.30) rotate(-45)" font-size="9.4" fill="#484848" text-anchor="end">2018</text>
</g>
<rect x="64.2" y="436.4" width="45.0" height="145.10000000000002" fill="#fefefe"/>
<rect x="109.2" y="436.4" width="44.999999999999986" height="145.10000000000002" fill="#f5f5f5"/>
<rect x="154.2" y="436.4" width="45.0" height="145.10000000000002" fill="#fefefe"/>
<rect x="199.2" y="436.4" width="45.0" height="145.10000000000002" fill="#f5f5f5"/>
<line x1="64.2" y1="436.40" x2="244.2" y2="436.40" stroke="#eeeeee" stroke-width="1"/>
<line x1="60.2" y1="436.40" x2="64.2" y2="436.40" stroke="#aaa" stroke-width="1"/>
<text x="58.5" y="439.60" font-size="9.6" fill="#444" text-anchor="end">300</text>
<line x1="64.2" y1="460.58" x2="244.2" y2="460.58" stroke="#eeeeee" stroke-width="1"/>
<line x1="60.2" y1="460.58" x2="64.2" y2="460.58" stroke="#aaa" stroke-width="1"/>
<text x="58.5" y="463.78" font-size="9.6" fill="#444" text-anchor="end">250</text>
<line x1="64.2" y1="484.77" x2="244.2" y2="484.77" stroke="#eeeeee" stroke-width="1"/>
<line x1="60.2" y1="484.77" x2="64.2" y2="484.77" stroke="#aaa" stroke-width="1"/>
<text x="58.5" y="487.97" font-size="9.6" fill="#444" text-anchor="end">200</text>
<line x1="64.2" y1="508.95" x2="244.2" y2="508.95" stroke="#eeeeee" stroke-width="1"/>
<line x1="60.2" y1="508.95" x2="64.2" y2="508.95" stroke="#aaa" stroke-width="1"/>
<text x="58.5" y="512.15" font-size="9.6" fill="#444" text-anchor="end">150</text>
<line x1="64.2" y1="533.13" x2="244.2" y2="533.13" stroke="#eeeeee" stroke-width="1"/>
<line x1="60.2" y1="533.13" x2="64.2" y2="533.13" stroke="#aaa" stroke-width="1"/>
<text x="58.5" y="536.33" font-size="9.6" fill="#444" text-anchor="end">100</text>
<line x1="64.2" y1="557.32" x2="244.2" y2="557.32" stroke="#eeeeee" stroke-width="1"/>
<line x1="60.2" y1="557.32" x2="64.2" y2="557.32" stroke="#aaa" stroke-width="1"/>
<text x="58.5" y="560.52" font-size="9.6" fill="#444" text-anchor="end">50</text>
<line x1="64.2" y1="581.50" x2="244.2" y2="581.50" stroke="#eeeeee" stroke-width="1"/>
<line x1="60.2" y1="581.50" x2="64.2" y2="581.50" stroke="#aaa" stroke-width="1"/>
<text x="58.5" y="584.70" font-size="9.6" fill="#444" text-anchor="end">0</text>
<line x1="64.20" y1="436.4" x2="64.20" y2="581.5" stroke="#eeeeee" stroke-width="1"/>
<line x1="109.20" y1="436.4" x2="109.20" y2="581.5" stroke="#eeeeee" stroke-width="1"/>
<line x1="154.20" y1="436.4" x2="154.20" y2="581.5" stroke="#eeeeee" stroke-width="1"/>
<line x1="199.20" y1="436.4" x2="199.20" y2="581.5" stroke="#eeeeee" stroke-width="1"/>
<line x1="244.20" y1="436.4" x2="244.20" y2="581.5" stroke="#eeeeee" stroke-width="1"/>
<line x1="64.2" y1="436.4" x2="64.2" y2="581.5" stroke="#d6d6d6" stroke-width="1"/>
<line x1="64.2" y1="581.8" x2="244.2" y2="581.8" stroke="#bbb" stroke-width="1"/>
<line x1="64.20" y1="581.5" x2="64.20" y2="585.3" stroke="#aaa" stroke-width="1"/>
<line x1="109.20" y1="581.5" x2="109.20" y2="585.3" stroke="#aaa" stroke-width="1"/>
<line x1="154.20" y1="581.5" x2="154.20" y2="585.3" stroke="#aaa" stroke-width="1"/>
<line x1="199.20" y1="581.5" x2="199.20" y2="585.3" stroke="#aaa" stroke-width="1"/>
<line x1="244.20" y1="581.5" x2="244.20" y2="585.3" stroke="#aaa" stroke-width="1"/>
<polyline points="64.2,555.8656666666667 109.2,436.4 244.2,581.5" fill="none" stroke="#6a8fcb" stroke-width="1.6" stroke-dasharray="4.5,3.2"/>
<polyline points="64.2,569.4083333333333 109.2,504.11333333333334 244.2,581.5" fill="none" stroke="#d4ca58" stroke-width="1.4" stroke-dasharray="1.4,1.4"/>
<circle cx="64.2" cy="555.87" r="1.7" fill="#fff" stroke="#6a8fcb" stroke-width="1"/>
<circle cx="109.2" cy="436.40" r="1.7" fill="#fff" stroke="#6a8fcb" stroke-width="1"/>
<circle cx="64.2" cy="569.41" r="1.7" fill="#fff" stroke="#d8d070" stroke-width="1"/>
<circle cx="109.2" cy="504.11" r="1.7" fill="#fff" stroke="#d8d070" stroke-width="1"/>
<circle cx="244.2" cy="581.50" r="1.7" fill="#fff" stroke="#d8d070" stroke-width="1"/>
<rect x="65.8" y="599.5" width="180.60000000000002" height="22.399999999999977" fill="#d7f0ef" stroke="#8db3cf" stroke-width="1"/>
<polygon points="66.3,621.4 66.3,614.5 155,603.3 245.9,617.9 245.9,621.4" fill="#a7cfdf"/>
<line x1="66.3" y1="621.6" x2="245.9" y2="621.6" stroke="#6f9cc4" stroke-width="1"/>
<line x1="66.3" y1="599.5" x2="66.3" y2="621.9" stroke="#4a78c8" stroke-width="1.5"/>
<rect x="63.9" y="605.8000000000001" width="4.8" height="9.7" rx="0.8" fill="#3364b4"/>
<path d="M64.7 609.4000000000001h3.2M64.7 612.5h3.2" stroke="#8fb6ee" stroke-width="0.9"/>
<line x1="245.9" y1="599.5" x2="245.9" y2="621.9" stroke="#4a78c8" stroke-width="1.5"/>
<rect x="243.5" y="605.8000000000001" width="4.8" height="9.7" rx="0.8" fill="#3364b4"/>
<path d="M244.3 609.4000000000001h3.2M244.3 612.5h3.2" stroke="#8fb6ee" stroke-width="0.9"/>
<text transform="translate(61.70,586.50) rotate(-45)" font-size="9.4" fill="#484848" text-anchor="end">10-21</text>
<text transform="translate(68.40,592.50) rotate(-45)" font-size="9.4" fill="#484848" text-anchor="end">2018</text>
<text transform="translate(106.70,586.50) rotate(-45)" font-size="9.4" fill="#484848" text-anchor="end">10-22</text>
<text transform="translate(113.40,592.50) rotate(-45)" font-size="9.4" fill="#484848" text-anchor="end">2018</text>
<text transform="translate(151.70,586.50) rotate(-45)" font-size="9.4" fill="#484848" text-anchor="end">10-23</text>
<text transform="translate(158.40,592.50) rotate(-45)" font-size="9.4" fill="#484848" text-anchor="end">2018</text>
<text transform="translate(196.70,586.50) rotate(-45)" font-size="9.4" fill="#484848" text-anchor="end">10-24</text>
<text transform="translate(203.40,592.50) rotate(-45)" font-size="9.4" fill="#484848" text-anchor="end">2018</text>
<text transform="translate(241.70,586.50) rotate(-45)" font-size="9.4" fill="#484848" text-anchor="end">10-25</text>
<text transform="translate(248.40,592.50) rotate(-45)" font-size="9.4" fill="#484848" text-anchor="end">2018</text>
<line x1="52.7" y1="399.8" x2="71.30000000000001" y2="399.8" stroke="#6a8fcb" stroke-width="1"/>
<circle cx="62.0" cy="399.8" r="4" fill="#fff" stroke="#6a8fcb" stroke-width="1"/>
<text x="75.9" y="402.6" font-size="9.8" fill="#4a4a4a">Number of orders</text>
<line x1="160.5" y1="399.8" x2="179.1" y2="399.8" stroke="#d8d070" stroke-width="1"/>
<circle cx="169.8" cy="399.8" r="4" fill="#fff" stroke="#d8d070" stroke-width="1"/>
<text x="183.7" y="402.6" font-size="9.8" fill="#4a4a4a">Number of stops</text>
<rect x="494.2" y="436.5" width="32.20" height="145.0" fill="#fefefe"/>
<rect x="526.4" y="436.5" width="64.60" height="145.0" fill="#f5f5f5"/>
<rect x="591.0" y="436.5" width="64.60" height="145.0" fill="#fefefe"/>
<rect x="655.6" y="436.5" width="64.60" height="145.0" fill="#f5f5f5"/>
<rect x="720.2" y="436.5" width="64.60" height="145.0" fill="#fefefe"/>
<rect x="784.8" y="436.5" width="31.90" height="145.0" fill="#f5f5f5"/>
<line x1="494.2" y1="436.50" x2="816.7" y2="436.50" stroke="#eeeeee" stroke-width="1"/>
<line x1="490.2" y1="436.50" x2="494.2" y2="436.50" stroke="#aaa" stroke-width="1"/>
<text x="487.3" y="439.70" font-size="9.6" fill="#444" text-anchor="end">350 h</text>
<line x1="494.2" y1="457.21" x2="816.7" y2="457.21" stroke="#eeeeee" stroke-width="1"/>
<line x1="490.2" y1="457.21" x2="494.2" y2="457.21" stroke="#aaa" stroke-width="1"/>
<text x="487.3" y="460.41" font-size="9.6" fill="#444" text-anchor="end">300 h</text>
<line x1="494.2" y1="477.93" x2="816.7" y2="477.93" stroke="#eeeeee" stroke-width="1"/>
<line x1="490.2" y1="477.93" x2="494.2" y2="477.93" stroke="#aaa" stroke-width="1"/>
<text x="487.3" y="481.13" font-size="9.6" fill="#444" text-anchor="end">250 h</text>
<line x1="494.2" y1="498.64" x2="816.7" y2="498.64" stroke="#eeeeee" stroke-width="1"/>
<line x1="490.2" y1="498.64" x2="494.2" y2="498.64" stroke="#aaa" stroke-width="1"/>
<text x="487.3" y="501.84" font-size="9.6" fill="#444" text-anchor="end">200 h</text>
<line x1="494.2" y1="519.36" x2="816.7" y2="519.36" stroke="#eeeeee" stroke-width="1"/>
<line x1="490.2" y1="519.36" x2="494.2" y2="519.36" stroke="#aaa" stroke-width="1"/>
<text x="487.3" y="522.56" font-size="9.6" fill="#444" text-anchor="end">150 h</text>
<line x1="494.2" y1="540.07" x2="816.7" y2="540.07" stroke="#eeeeee" stroke-width="1"/>
<line x1="490.2" y1="540.07" x2="494.2" y2="540.07" stroke="#aaa" stroke-width="1"/>
<text x="487.3" y="543.27" font-size="9.6" fill="#444" text-anchor="end">100 h</text>
<line x1="494.2" y1="560.79" x2="816.7" y2="560.79" stroke="#eeeeee" stroke-width="1"/>
<line x1="490.2" y1="560.79" x2="494.2" y2="560.79" stroke="#aaa" stroke-width="1"/>
<text x="487.3" y="563.99" font-size="9.6" fill="#444" text-anchor="end">50 h</text>
<line x1="494.2" y1="581.50" x2="816.7" y2="581.50" stroke="#eeeeee" stroke-width="1"/>
<line x1="490.2" y1="581.50" x2="494.2" y2="581.50" stroke="#aaa" stroke-width="1"/>
<text x="487.3" y="584.70" font-size="9.6" fill="#444" text-anchor="end">0 h</text>
<line x1="494.20" y1="436.5" x2="494.20" y2="581.5" stroke="#eeeeee" stroke-width="1"/>
<line x1="526.40" y1="436.5" x2="526.40" y2="581.5" stroke="#eeeeee" stroke-width="1"/>
<line x1="591.00" y1="436.5" x2="591.00" y2="581.5" stroke="#eeeeee" stroke-width="1"/>
<line x1="655.60" y1="436.5" x2="655.60" y2="581.5" stroke="#eeeeee" stroke-width="1"/>
<line x1="720.20" y1="436.5" x2="720.20" y2="581.5" stroke="#eeeeee" stroke-width="1"/>
<line x1="784.80" y1="436.5" x2="784.80" y2="581.5" stroke="#eeeeee" stroke-width="1"/>
<line x1="816.70" y1="436.5" x2="816.70" y2="581.5" stroke="#eeeeee" stroke-width="1"/>
<line x1="494.2" y1="436.5" x2="494.2" y2="581.5" stroke="#d6d6d6" stroke-width="1"/>
<rect x="565.30" y="441.8" width="51.4" height="51.10" fill="#d4ae66"/>
<rect x="565.30" y="492.9" width="51.4" height="88.60" fill="#6896d6"/>
<rect x="629.90" y="558.3" width="51.4" height="5.50" fill="#d4ae66"/>
<rect x="629.90" y="563.8" width="51.4" height="17.70" fill="#6896d6"/>
<rect x="759.10" y="577.4" width="51.4" height="2.60" fill="#d4ae66"/>
<rect x="759.10" y="580.0" width="51.4" height="1.50" fill="#6896d6"/>
<line x1="494.2" y1="581.8" x2="816.7" y2="581.8" stroke="#bbb" stroke-width="1"/>
<line x1="494.20" y1="581.5" x2="494.20" y2="585.3" stroke="#aaa" stroke-width="1"/>
<line x1="526.40" y1="581.5" x2="526.40" y2="585.3" stroke="#aaa" stroke-width="1"/>
<line x1="591.00" y1="581.5" x2="591.00" y2="585.3" stroke="#aaa" stroke-width="1"/>
<line x1="655.60" y1="581.5" x2="655.60" y2="585.3" stroke="#aaa" stroke-width="1"/>
<line x1="720.20" y1="581.5" x2="720.20" y2="585.3" stroke="#aaa" stroke-width="1"/>
<line x1="784.80" y1="581.5" x2="784.80" y2="585.3" stroke="#aaa" stroke-width="1"/>
<line x1="816.70" y1="581.5" x2="816.70" y2="585.3" stroke="#aaa" stroke-width="1"/>
<rect x="495" y="599.5" width="323.9" height="22.299999999999955" fill="#d7f0ef" stroke="#8db3cf" stroke-width="1"/>
<polygon points="495.5,621.3 495.5,617.2 603.4,603.1 708,614.4 818.4,616.5 818.4,621.3" fill="#a7cfdf"/>
<line x1="495.5" y1="621.5" x2="818.4" y2="621.5" stroke="#6f9cc4" stroke-width="1"/>
<line x1="495.5" y1="599.5" x2="495.5" y2="621.8" stroke="#4a78c8" stroke-width="1.5"/>
<rect x="493.1" y="605.75" width="4.8" height="9.7" rx="0.8" fill="#3364b4"/>
<path d="M493.9 609.35h3.2M493.9 612.4499999999999h3.2" stroke="#8fb6ee" stroke-width="0.9"/>
<line x1="818.4" y1="599.5" x2="818.4" y2="621.8" stroke="#4a78c8" stroke-width="1.5"/>
<rect x="816.0" y="605.75" width="4.8" height="9.7" rx="0.8" fill="#3364b4"/>
<path d="M816.8 609.35h3.2M816.8 612.4499999999999h3.2" stroke="#8fb6ee" stroke-width="0.9"/>
<text transform="translate(491.70,586.50) rotate(-45)" font-size="9.4" fill="#484848" text-anchor="end">10-20</text>
<text transform="translate(498.40,592.50) rotate(-45)" font-size="9.4" fill="#484848" text-anchor="end">2018</text>
<text transform="translate(523.90,586.50) rotate(-45)" font-size="9.4" fill="#484848" text-anchor="end">10-21</text>
<text transform="translate(530.60,592.50) rotate(-45)" font-size="9.4" fill="#484848" text-anchor="end">2018</text>
<text transform="translate(588.50,586.50) rotate(-45)" font-size="9.4" fill="#484848" text-anchor="end">10-22</text>
<text transform="translate(595.20,592.50) rotate(-45)" font-size="9.4" fill="#484848" text-anchor="end">2018</text>
<text transform="translate(653.10,586.50) rotate(-45)" font-size="9.4" fill="#484848" text-anchor="end">10-23</text>
<text transform="translate(659.80,592.50) rotate(-45)" font-size="9.4" fill="#484848" text-anchor="end">2018</text>
<text transform="translate(717.70,586.50) rotate(-45)" font-size="9.4" fill="#484848" text-anchor="end">10-24</text>
<text transform="translate(724.40,592.50) rotate(-45)" font-size="9.4" fill="#484848" text-anchor="end">2018</text>
<text transform="translate(782.30,586.50) rotate(-45)" font-size="9.4" fill="#484848" text-anchor="end">10-25</text>
<text transform="translate(789.00,592.50) rotate(-45)" font-size="9.4" fill="#484848" text-anchor="end">2018</text>
<text transform="translate(814.20,586.50) rotate(-45)" font-size="9.4" fill="#484848" text-anchor="end">10-25</text>
<text transform="translate(820.90,592.50) rotate(-45)" font-size="9.4" fill="#484848" text-anchor="end">2018</text>
<rect x="487.8" y="395.7" width="18.9" height="9.8" rx="2.2" fill="#6896d6"/>
<text x="510.8" y="403.2" font-size="9.6" fill="#555">60 cbm Fahrzeuge - Driving time</text>
<rect x="659" y="395.7" width="18.2" height="9.8" rx="2.2" fill="#d4ae66"/>
<text x="682" y="403.2" font-size="9.6" fill="#555">60 cbm Fahrzeuge - Service time</text>
</svg>
</body></html>
